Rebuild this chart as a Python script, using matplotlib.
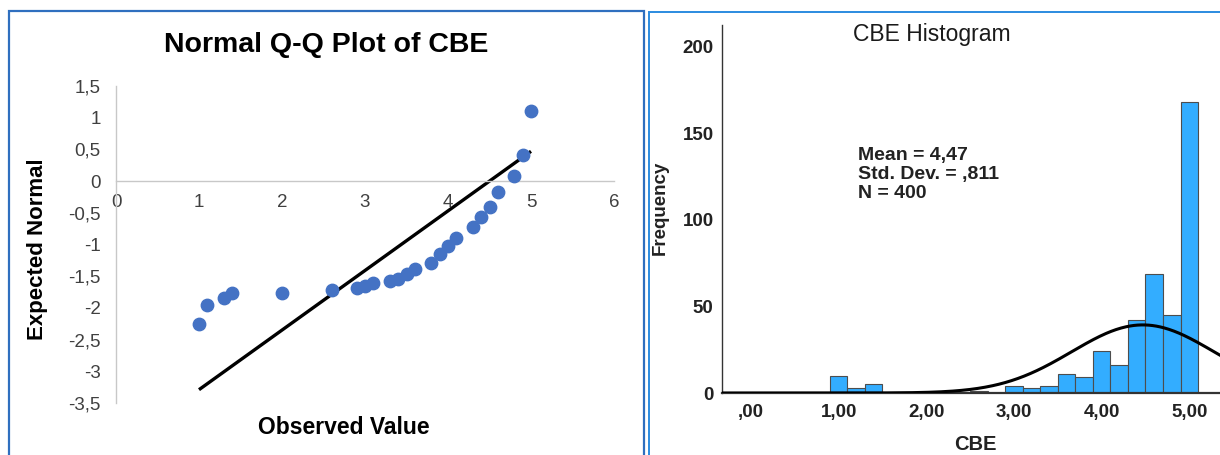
import numpy as np
import matplotlib
matplotlib.use('Agg')
import matplotlib.pyplot as plt
from matplotlib.patches import Rectangle
from matplotlib.ticker import FuncFormatter

plt.rcParams['font.family'] = ['Liberation Sans', 'DejaVu Sans']

# Q-Q plot points (observed value, expected normal)
qq_observed = [1.0, 1.1, 1.3, 1.4, 2.0, 2.6, 2.9, 3.0, 3.1, 3.3, 3.4, 3.5, 3.6,
               3.8, 3.9, 4.0, 4.1, 4.3, 4.4, 4.5, 4.6, 4.8, 4.9, 5.0]
qq_expected = [-2.25, -1.95, -1.85, -1.77, -1.76, -1.71, -1.69, -1.66, -1.61,
               -1.57, -1.54, -1.47, -1.38, -1.29, -1.15, -1.03, -0.89, -0.72,
               -0.57, -0.41, -0.17, 0.08, 0.41, 1.10]
line_x = [1.0, 5.0]
line_y = [-3.29, 0.47]
qq_yticks = [1.5, 1, 0.5, 0, -0.5, -1, -1.5, -2, -2.5, -3, -3.5]
qq_xticks = [0, 1, 2, 3, 4, 5, 6]

# histogram bins (centre, count), bin width 0.2
bin_centers = [1.0, 1.2, 1.4, 2.6, 3.0, 3.2, 3.4, 3.6, 3.8, 4.0, 4.2, 4.4, 4.6, 4.8, 5.0]
bin_counts = [10, 3, 5, 1, 4, 3, 4, 11, 9, 24, 16, 42, 69, 45, 168]
bin_width = 0.2
cbe_mean = 4.47
cbe_std = 0.811
cbe_n = 400
hist_xticks = [0, 1, 2, 3, 4, 5]
hist_yticks = [0, 50, 100, 150, 200]


def comma(v, pos=None):
    s = ('%g' % v).replace('.', ',')
    return s


def spss(v, pos=None):
    s = ('%.2f' % v).replace('.', ',')
    if s.startswith('0,'):
        s = s[1:]
    return s


W, H = 1220, 455
fig = plt.figure(figsize=(W / 100, H / 100), dpi=100)

# panel frames
fig.patches.append(Rectangle((9 / W, -0.05), (644 - 9) / W, 1.05 - 11 / H, transform=fig.transFigure,
                             fill=False, edgecolor='#2f6fbf', linewidth=1.6))
fig.patches.append(Rectangle((649 / W, -0.05), 0.6, 1.05 - 12.5 / H, transform=fig.transFigure,
                             fill=False, edgecolor='#2b8be0', linewidth=1.4))

# ---------------- Q-Q plot ----------------
ax1 = fig.add_axes([116 / W, 1 - 403 / H, 498 / W, 317 / H])
ax1.set_xlim(0, 6)
ax1.set_ylim(-3.5, 1.5)
for s in ['top', 'right']:
    ax1.spines[s].set_visible(False)
ax1.spines['bottom'].set_position(('data', 0))
ax1.spines['bottom'].set_color('#c8c8c8')
ax1.spines['left'].set_color('#c8c8c8')
ax1.spines['bottom'].set_linewidth(1.0)
ax1.spines['left'].set_linewidth(1.0)
ax1.set_xticks(qq_xticks)
ax1.set_yticks(qq_yticks)
ax1.xaxis.set_major_formatter(FuncFormatter(comma))
ax1.yaxis.set_major_formatter(FuncFormatter(comma))
ax1.tick_params(length=0, labelsize=13.5, labelcolor='#404040')
ax1.tick_params(axis='x', pad=9)
ax1.tick_params(axis='y', pad=11)
ax1.plot(line_x, line_y, color='black', linewidth=2.4, solid_capstyle='butt', zorder=2)
ax1.scatter(qq_observed, qq_expected, s=80, color='#4472c4', edgecolors='#4472c4', zorder=3, clip_on=False)
fig.text(326 / W, 1 - 45 / H, 'Normal Q-Q Plot of CBE', ha='center', va='center',
         fontsize=20.5, fontweight='bold')
fig.text(38 / W, 1 - 249 / H, 'Expected Normal', ha='center', va='center', rotation=90,
         fontsize=16, fontweight='bold')
fig.text(344 / W, 1 - 428 / H, 'Observed Value', ha='center', va='center',
         fontsize=16.5, fontweight='bold')

# ---------------- histogram ----------------
ax2 = fig.add_axes([722 / W, 1 - 393 / H, (W - 722) / W, 368 / H])
ax2.set_xlim(-0.33, 5.35)
ax2.set_ylim(0, 212.7)
ax2.bar(bin_centers, bin_counts, width=bin_width, color='#33adff', edgecolor='#4d4d4d',
        linewidth=0.8, zorder=2)
xs = np.linspace(-0.33, 5.4, 400)
curve = cbe_n * bin_width * np.exp(-0.5 * ((xs - cbe_mean) / cbe_std) ** 2) / (cbe_std * np.sqrt(2 * np.pi))
ax2.plot(xs, curve, color='black', linewidth=2.2, zorder=3)
for s in ['top', 'right']:
    ax2.spines[s].set_visible(False)
ax2.spines['left'].set_color('#333333')
ax2.spines['bottom'].set_color('#333333')
ax2.spines['left'].set_linewidth(1.0)
ax2.spines['bottom'].set_linewidth(1.6)
ax2.set_xticks(hist_xticks)
ax2.set_yticks(hist_yticks)
ax2.xaxis.set_major_formatter(FuncFormatter(spss))
ax2.tick_params(length=0, labelsize=13.5)
ax2.tick_params(axis='x', pad=8)
ax2.tick_params(axis='y', pad=6)
for lab in ax2.get_xticklabels() + ax2.get_yticklabels():
    lab.set_fontweight('bold')
    lab.set_color('#222222')
ax2.text(1.22, 142, 'Mean = 4,47\nStd. Dev. = ,811\nN = 400', ha='left', va='top',
         fontsize=14, fontweight='bold', linespacing=1.15, color='#222222')
fig.text(932 / W, 1 - 34 / H, 'CBE Histogram', ha='center', va='center', fontsize=16.5,
         fontweight='medium', color='#1a1a1a')
fig.text(660 / W, 1 - 208 / H, 'Frequency', ha='center', va='center', rotation=90,
         fontsize=13.5, fontweight='bold', color='#222222')
fig.text(975 / W, 1 - 444 / H, 'CBE', ha='center', va='center', fontsize=14.5,
         fontweight='bold', color='#222222')

fig.savefig('out.png', dpi=100)
